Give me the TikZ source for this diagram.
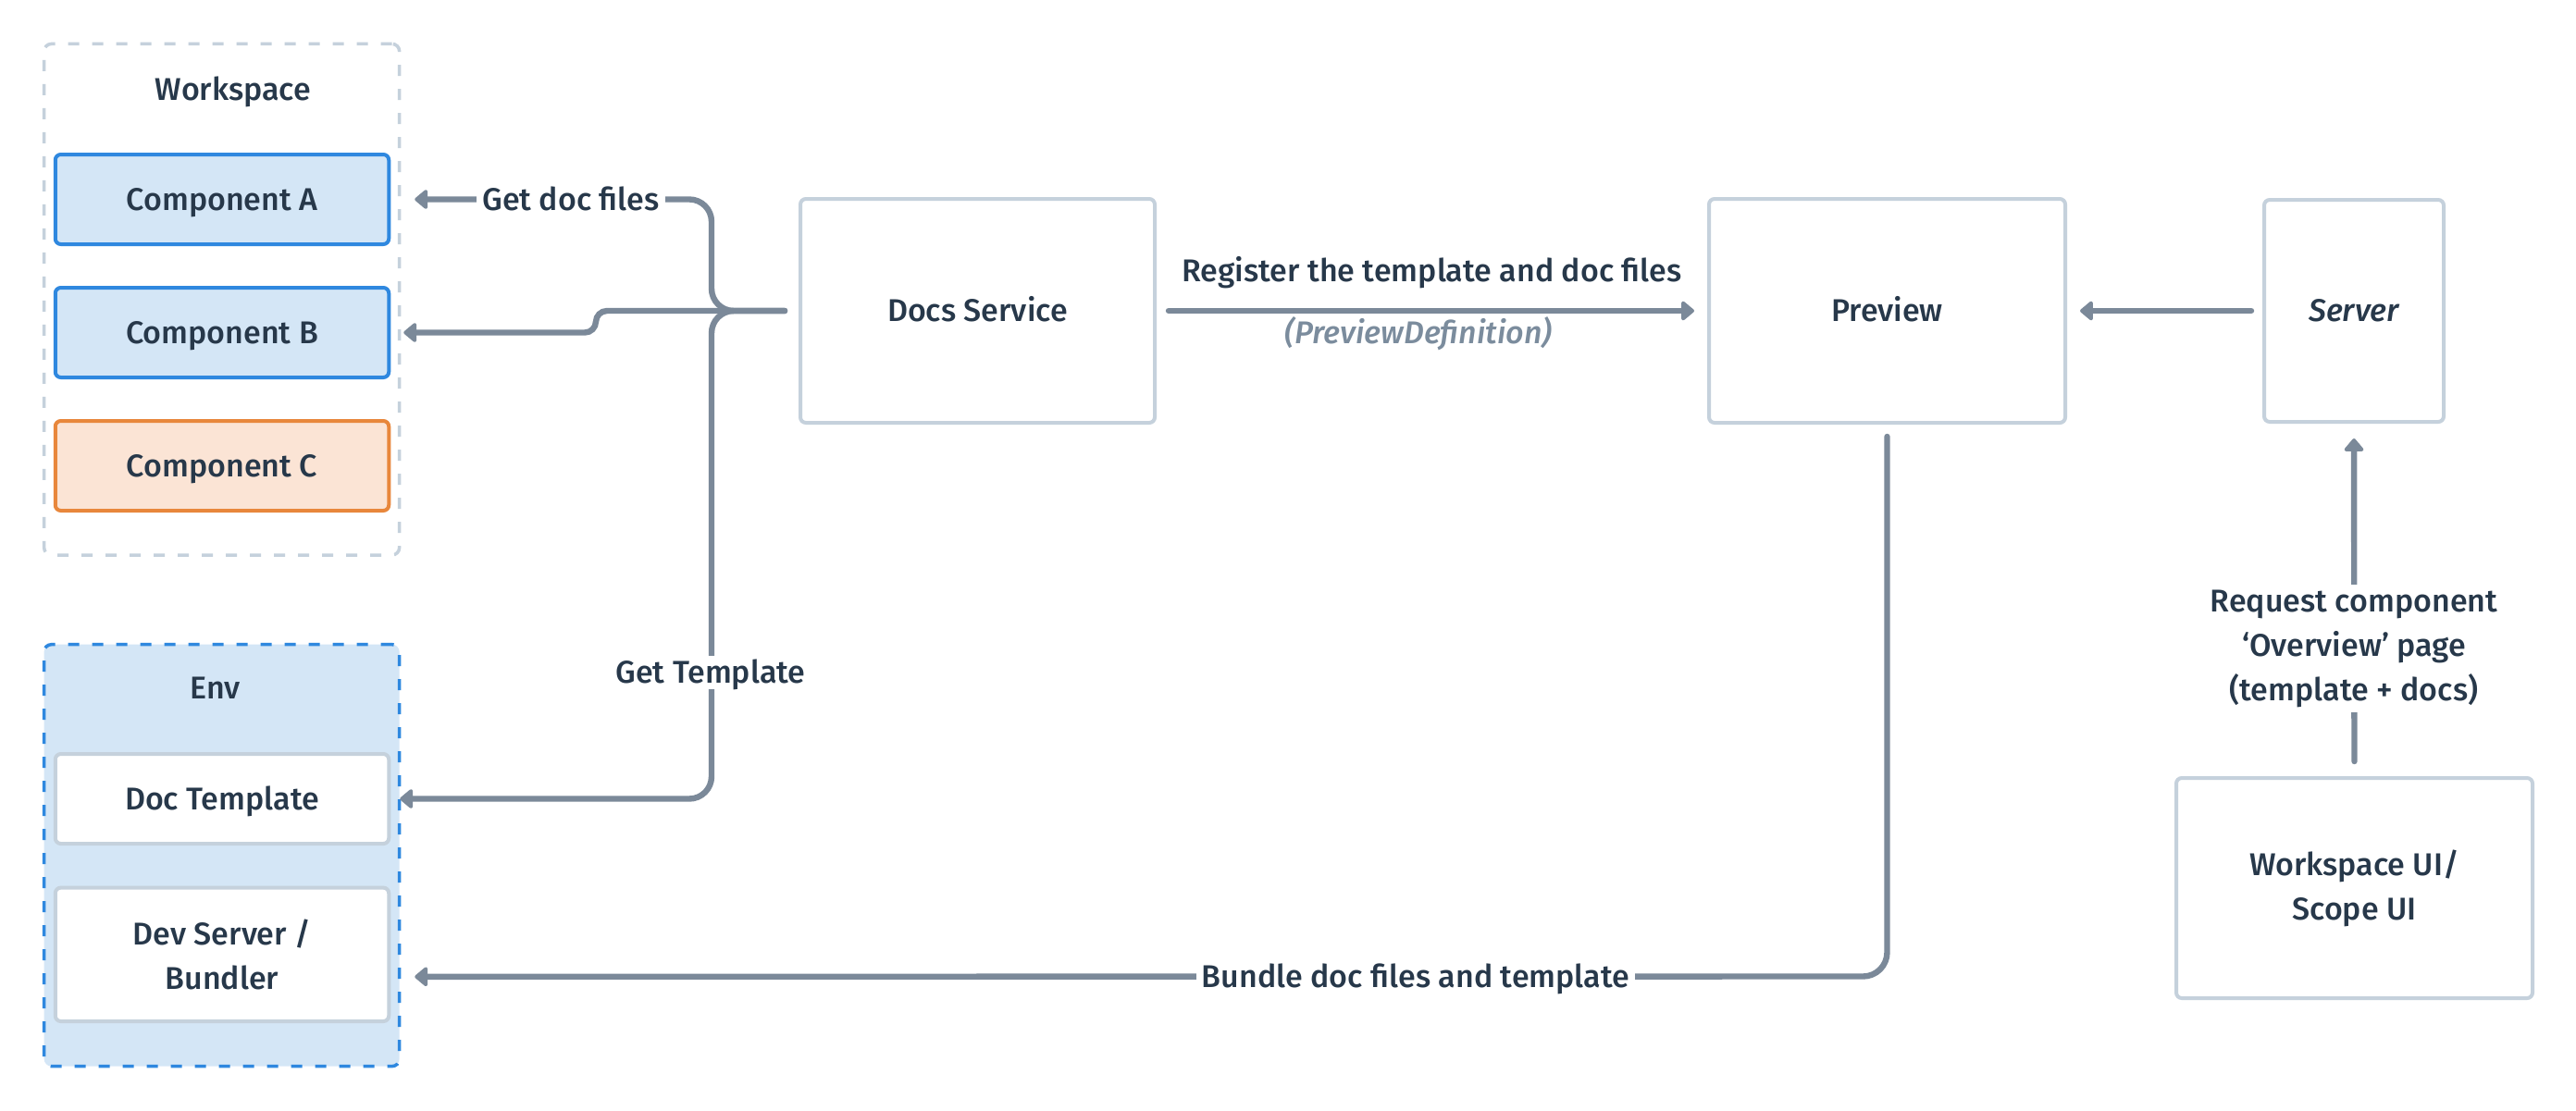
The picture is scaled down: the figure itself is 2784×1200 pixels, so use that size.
\documentclass[tikz,border=0pt]{standalone}
\usepackage{fontspec}
\setmainfont{Fira Sans}[UprightFont={* Medium}, ItalicFont={* Medium Italic}]
\usetikzlibrary{arrows.meta,calc}
\definecolor{txt}{HTML}{27384A}
\definecolor{arr}{HTML}{7B8999}
\definecolor{gbd}{HTML}{C5D1DC}
\definecolor{bfill}{HTML}{D4E6F6}
\definecolor{bbd}{HTML}{2F88DF}
\definecolor{ofill}{HTML}{FBE4D5}
\definecolor{obd}{HTML}{E8873C}
\definecolor{itl}{HTML}{7B8C9D}
\tikzset{
  base/.style={font=\fontsize{17}{24}\selectfont, text=txt, align=center},
  oneline/.style={text height=11.7pt, text depth=0pt},
  box/.style={base, draw=gbd, line width=2pt, rounded corners=3pt, fill=white},
  comp/.style={base, oneline, draw=bbd, fill=bfill, line width=2pt, rounded corners=3pt, minimum width=180.25pt, minimum height=48.5pt},
  compo/.style={comp, draw=obd, fill=ofill},
  envitem/.style={box, minimum width=180.25pt},
  group/.style={line width=1.75pt, rounded corners=4pt, dash pattern=on 6pt off 7pt},
  conn/.style={draw=arr, line width=3.2pt, line cap=round, rounded corners=12pt, -{Triangle[length=7.5pt,width=12pt,round]}},
  lbl/.style={base, fill=white, inner sep=3pt}
}
\begin{document}
\begin{tikzpicture}[x=0.5pt,y=-0.5pt]
\useasboundingbox[fill=white] (0,0) rectangle (2784,1200);
% groups
\node[group, draw=gbd, minimum width=192pt, minimum height=276.3pt] (ws) at (239.65,323.7) {};
\node[base, oneline] (wsl) at (252,97) {Workspace};
\node[group, draw=bbd, fill=bfill, minimum width=192pt, minimum height=228pt] (env) at (239.65,924.65) {};
\node[base, oneline] (envl) at (232.5,744) {Env};
% components
\node[comp] (cA) at (240,215.5) {Component A};
\node[comp] (cB) at (240,359.5) {Component B};
\node[compo] (cC) at (240,503.5) {Component C};
\node[envitem, oneline, minimum height=48.5pt] (dt) at (240,863.5) {Doc Template};
\node[envitem, minimum height=72.2pt] (dv) at (240,1031.8) {Dev Server /\\Bundler};
% main boxes
\node[box, oneline, minimum width=191.5pt, minimum height=121pt] (ds) at (1056.5,336) {Docs Service};
\node[box, oneline, minimum width=192.5pt, minimum height=121pt] (pv) at (2039.5,336) {Preview};
\node[box, oneline, minimum width=97pt, minimum height=120pt, font=\itshape\fontsize{17}{24}\selectfont] (sv) at (2544,336) {Server};
\node[box, minimum width=192.5pt, minimum height=119pt] (wui) at (2544.5,960) {Workspace UI/\\Scope UI};
% connectors
\draw[conn, shorten <=7.5pt, shorten >=13pt] (ds.west) -- (769,336) -- (769,215.5) -- (cA.east);
\draw[conn, rounded corners=6pt, shorten <=7.5pt, shorten >=7pt] (ds.west) -- (644,336) -- (644,359.5) -- (cB.east);
\draw[conn, shorten <=7.5pt, shorten >=5pt] (ds.west) -- (769,336) -- (769,863.5) -- (dt.east);
\draw[conn, shorten <=6.5pt, shorten >=7pt] (ds.east) -- (pv.west);
\draw[conn, shorten <=6pt, shorten >=7pt] (sv.west) -- (pv.east);
\draw[conn, shorten <=8pt, shorten >=8pt] (wui.north) -- (sv.south);
\draw[conn, rounded corners=13pt, shorten <=6.5pt, shorten >=13pt] (pv.south) -- (2039.5,1055.5) -- ($(dv.east)+(0,24)$);
% labels
\node[lbl, oneline] (l1) at (617,215.5) {Get doc files};
\node[lbl, oneline] (l2) at (768,727) {Get Template};
\node[base, oneline] (l3) at (1547.6,293) {Register the template and doc files};
\node[base, oneline, text=itl, font=\itshape\fontsize{17}{24}\selectfont] (l4) at (1533,360) {(PreviewDefinition)};
\node[lbl, oneline] (l5) at (1530,1056) {Bundle doc files and template};
\node[lbl] (l6) at (2544,701) {Request component\\‘Overview’ page\\(template + docs)};
\end{tikzpicture}
\end{document}
